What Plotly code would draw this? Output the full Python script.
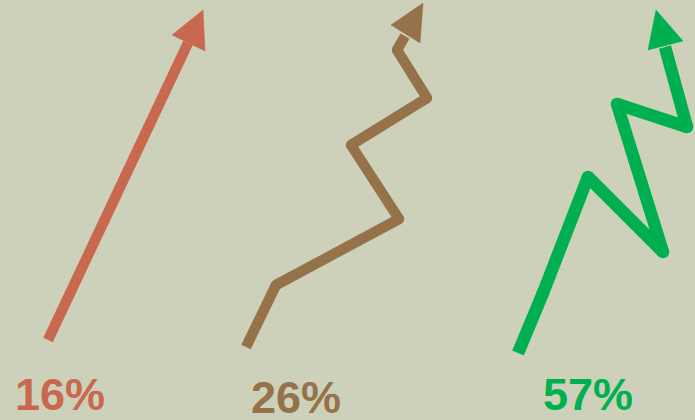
import plotly.graph_objects as go

# Values shown
labels = ["16%", "26%", "57%"]
values = [16, 26, 57]
colors = ["#C8694F", "#96724B", "#00B050"]

# Arrow paths (canvas-like coordinates, y downwards)
red_x = [48, 188]
red_y = [340, 43]
brown_x = [246, 276, 399, 351, 427, 397, 405]
brown_y = [347, 285, 219, 145, 98, 50, 36]
green_x = [518, 543, 588, 663, 617, 687, 665]
green_y = [353, 293, 177, 252, 104, 127, 47]

# Arrow heads (triangles)
red_head_x = [172, 203, 205]
red_head_y = [35, 10, 51]
brown_head_x = [391, 423, 420]
brown_head_y = [25, 3, 43]
green_head_x = [648, 656, 683]
green_head_y = [50, 10, 41]

# Label positions
label_x = [60, 296, 588]
label_y = [399, 402, 399]

widths = [10.5, 10.5, 12.5]
paths = [(red_x, red_y), (brown_x, brown_y), (green_x, green_y)]
heads = [(red_head_x, red_head_y), (brown_head_x, brown_head_y), (green_head_x, green_head_y)]

fig = go.Figure()
for (px, py), (hx, hy), c, w in zip(paths, heads, colors, widths):
    # each segment separately, with round joints
    for i in range(len(px) - 1):
        fig.add_trace(go.Scatter(x=px[i:i + 2], y=py[i:i + 2], mode="lines",
                                 line=dict(color=c, width=w),
                                 hoverinfo="skip", showlegend=False))
    if len(px) > 2:
        fig.add_trace(go.Scatter(x=px[1:-1], y=py[1:-1], mode="markers",
                                 marker=dict(color=c, size=w, line=dict(width=0)),
                                 hoverinfo="skip", showlegend=False))
    fig.add_trace(go.Scatter(x=hx + [hx[0]], y=hy + [hy[0]], mode="lines",
                             fill="toself", fillcolor=c,
                             line=dict(color=c, width=0.5),
                             hoverinfo="skip", showlegend=False))

for lx, ly, t, c in zip(label_x, label_y, labels, colors):
    fig.add_trace(go.Scatter(x=[lx], y=[ly], mode="text", text=[t],
                             textfont=dict(family="Liberation Sans", size=45, color=c,
                                           weight="bold"),
                             textposition="middle center",
                             hoverinfo="skip", showlegend=False))

fig.update_layout(
    width=695, height=420,
    margin=dict(l=0, r=0, t=0, b=0),
    paper_bgcolor="#CDD1B9",
    plot_bgcolor="#CDD1B9",
    xaxis=dict(range=[0, 695], visible=False, fixedrange=True),
    yaxis=dict(range=[420, 0], visible=False, fixedrange=True),
)

fig.write_html("out.html", config={"displayModeBar": False},
               post_script="document.body.style.margin='0';")
